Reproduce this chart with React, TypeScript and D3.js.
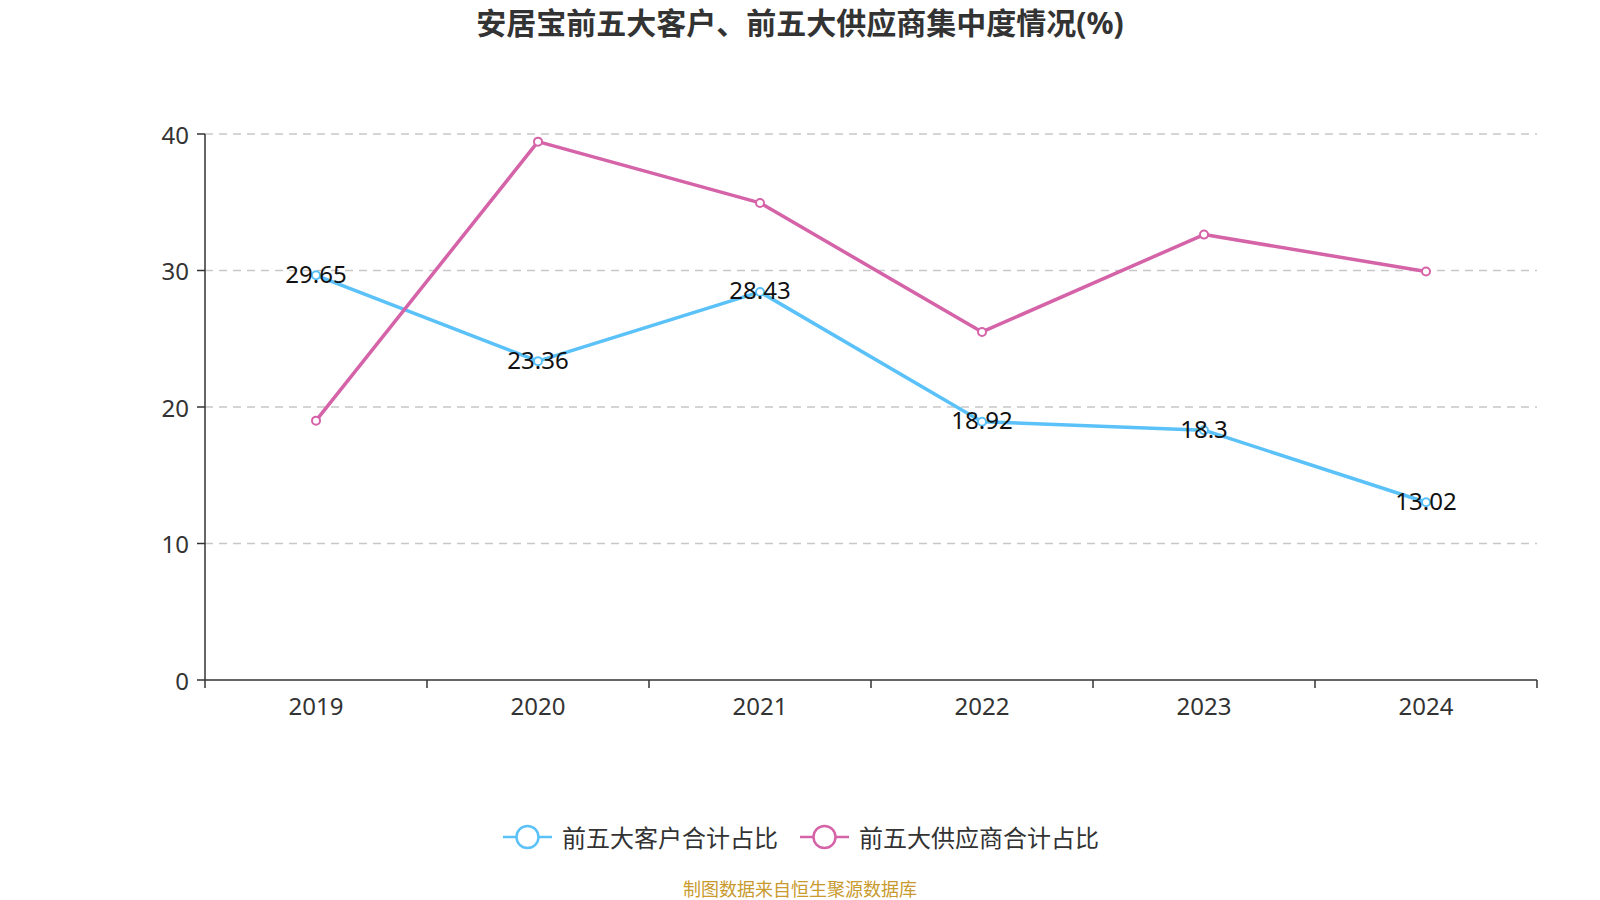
import React from 'react';
import * as d3 from 'd3';

const years = ['2019', '2020', '2021', '2022', '2023', '2024'];
const customerShare = [29.65, 23.36, 28.43, 18.92, 18.3, 13.02];
const supplierShare = [19.0, 39.44, 34.95, 25.5, 32.63, 29.93];
const yTicks = [0, 10, 20, 30, 40];
const seriesNames = ['前五大客户合计占比', '前五大供应商合计占比'];
const seriesColors = ['#5bc1f9', '#d563a8'];

const W = 1600;
const H = 900;
const margin = { top: 134, right: 63, bottom: 220, left: 205 };
const FONT = "'Noto Sans', 'Noto Sans CJK SC', sans-serif";

export default function App() {
  const innerW = W - margin.left - margin.right;
  const innerH = H - margin.top - margin.bottom;

  const x = d3.scaleBand<string>().domain(years).range([0, innerW]);
  const y = d3.scaleLinear().domain([0, 40]).range([innerH, 0]);
  const cx = (d: string) => (x(d) || 0) + x.bandwidth() / 2;

  const line = d3
    .line<number>()
    .x((_, i) => cx(years[i]))
    .y((v) => y(v));

  const series = [customerShare, supplierShare];
  const boundaries = years.map((d) => x(d) || 0).concat([innerW]);

  return (
    <div style={{ position: 'fixed', left: 0, top: 0, width: W, height: H, overflow: 'hidden' }}>
      <svg width={W} height={H} style={{ display: 'block', background: '#fff', fontFamily: FONT }}>
        <text x={800} y={22} textAnchor="middle" dominantBaseline="central" fontSize={30} fontWeight="bold" fill="#333">
          安居宝前五大客户、前五大供应商集中度情况(%)
        </text>
        <g transform={`translate(${margin.left},${margin.top})`}>
          {yTicks.map((t) => (
            <g key={t}>
              {t > 0 && (
                <line x1={0} x2={innerW} y1={y(t)} y2={y(t)} stroke="#c8c8c8" strokeWidth={1.5} strokeDasharray="8,6" />
              )}
              <line x1={-8} x2={0} y1={y(t)} y2={y(t)} stroke="#333" strokeWidth={1.5} />
              <text x={-16} y={y(t)} textAnchor="end" dominantBaseline="central" fontSize={24} fill="#333">
                {t}
              </text>
            </g>
          ))}
          <line x1={0} x2={0} y1={0} y2={innerH} stroke="#333" strokeWidth={1.5} />
          <line x1={0} x2={innerW} y1={innerH} y2={innerH} stroke="#333" strokeWidth={1.5} />
          {boundaries.map((b, i) => (
            <line key={i} x1={b} x2={b} y1={innerH} y2={innerH + 8} stroke="#333" strokeWidth={1.5} />
          ))}
          {years.map((d) => (
            <text key={d} x={cx(d)} y={innerH + 25} textAnchor="middle" dominantBaseline="central" fontSize={24} fill="#333">
              {d}
            </text>
          ))}
          {series.map((s, si) => (
            <g key={si}>
              <path d={line(s) || ''} fill="none" stroke={seriesColors[si]} strokeWidth={3.5} strokeLinejoin="round" />
              {s.map((v, i) => (
                <circle key={i} cx={cx(years[i])} cy={y(v)} r={4} fill="#fff" stroke={seriesColors[si]} strokeWidth={2} />
              ))}
            </g>
          ))}
          {customerShare.map((v, i) => (
            <text key={i} x={cx(years[i])} y={y(v) - 2} textAnchor="middle" dominantBaseline="central" fontSize={24} fill="#111">
              {v}
            </text>
          ))}
        </g>
        {[0, 1].map((i) => {
          const lx = i === 0 ? 503 : 800;
          return (
            <g key={i}>
              <line x1={lx} x2={lx + 49} y1={837} y2={837} stroke={seriesColors[i]} strokeWidth={2.5} />
              <circle cx={lx + 24.5} cy={837} r={11} fill="#fff" stroke={seriesColors[i]} strokeWidth={2.5} />
              <text x={lx + 59} y={837} dominantBaseline="central" fontSize={24} fill="#333">
                {seriesNames[i]}
              </text>
            </g>
          );
        })}
        <text x={800} y={889} textAnchor="middle" dominantBaseline="central" fontSize={18} fill="#c99a2e">
          制图数据来自恒生聚源数据库
        </text>
      </svg>
    </div>
  );
}
